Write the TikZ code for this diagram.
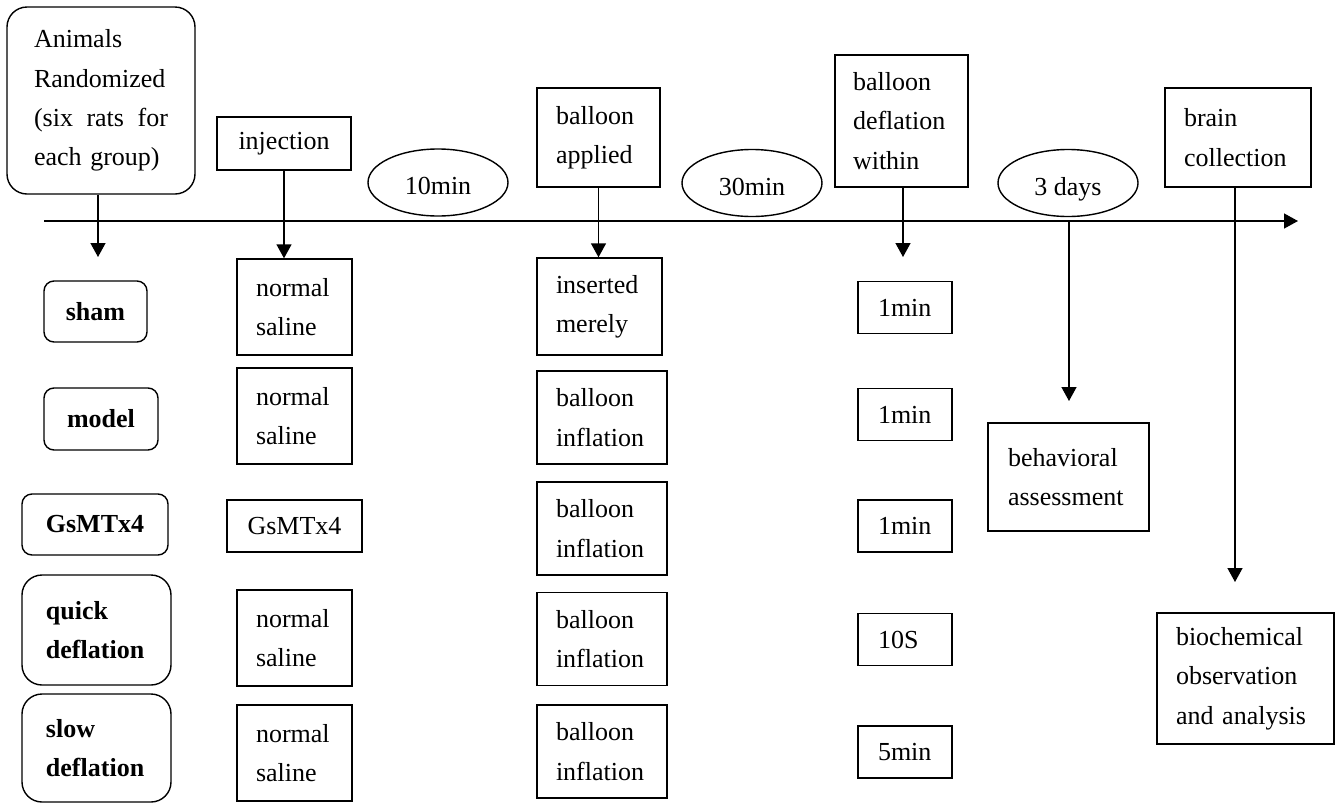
\documentclass[tikz,border=0pt]{standalone}
\usepackage{fontspec}
\setmainfont{Liberation Serif}
\usetikzlibrary{arrows.meta,shapes.geometric}

\tikzset{
	stage/.style={draw, line width=0.7pt, inner xsep=9.5pt, inner ysep=0pt, align=left},
	group/.style={draw, line width=0.7pt, rounded corners=5pt, inner ysep=0pt, align=center, font=\fontsize{13}{19.7}\selectfont\bfseries},
	period/.style={draw, ellipse, line width=0.7pt, minimum width=70pt, minimum height=33.5pt, inner sep=0pt, text height=12pt, text depth=0pt},
	flow/.style={line width=0.7pt, -{Triangle[length=7pt,width=7.5pt]}}
}

\begin{document}
\begin{tikzpicture}[x=0.5pt, y=-0.5pt, font=\fontsize{13}{19.7}\selectfont]
	\useasboundingbox (0,0) rectangle (1335,804);
	% time axis
	\coordinate (t0) at (44,221);
	\coordinate (t1) at (1298,221);
	\draw[flow] (t0) -- (t1);
	% steps above the axis
	\node[stage, rounded corners=10pt, inner xsep=13.5pt, text width=67pt, minimum height=93.5pt] (animals) at (101,100.5)
		{Animals\\Randomized\\\makebox[67pt][l]{(six\hfill rats\hfill for}\\each group)};
	\node[stage, minimum width=67pt, minimum height=26.5pt, align=center] (injection) at (284,143.5) {injection};
	\node[stage, text width=42.5pt, minimum height=49.5pt] (applied) at (598.5,137.5) {balloon\\applied};
	\node[stage, inner xsep=9pt, text width=48.5pt, minimum height=66pt] (within) at (901.5,121) {balloon\\deflation\\within};
	\node[stage, text width=54pt, minimum height=49.5pt] (collection) at (1238,137.5) {brain\\collection};
	% intervals
	\node[period] (p10) at (438,182.5) {10min};
	\node[period] (p30) at (752,183) {30min};
	\node[period] (p3d) at (1068,183) {3 days};
	% groups
	\node[group, minimum width=51.5pt, minimum height=30.5pt] (sham) at (95.5,311.5) {sham};
	\node[group, minimum width=57pt, minimum height=31pt] (model) at (101,419) {model};
	\node[group, minimum width=73pt, minimum height=30.5pt] (gsmtx) at (95,524.5) {GsMTx4};
	\node[group, rounded corners=10pt, align=left, inner xsep=12pt, text width=50.5pt, minimum height=55pt] (quick) at (96.5,630) {quick\\deflation};
	\node[group, rounded corners=10pt, align=left, inner xsep=12pt, text width=50.5pt, minimum height=54pt] (slow) at (96.5,748) {slow\\deflation};
	% what is injected
	\foreach \i/\y in {1/307, 2/416, 3/638, 4/753}
		\node[stage, text width=38.5pt, minimum height=48pt] (saline\i) at (294.5,\y) {normal\\saline};
	\node[stage, minimum width=67.5pt, minimum height=26pt, align=center] (agent) at (294.5,526) {GsMTx4};
	% balloon
	\node[stage, text width=43.5pt, minimum height=48.5pt] (merely) at (599.5,306.5) {inserted\\merely};
	\foreach \i/\y in {1/417.5, 2/528.5, 3/639, 4/751.5}
		\node[stage, text width=46pt, minimum height=46.5pt] (inflate\i) at (602,\y) {balloon\\inflation};
	% deflation times
	\foreach \i/\y/\t in {1/307.5/1min, 2/414.5/1min, 3/526/1min, 4/639.5/10S, 5/752/5min}
		\node[stage, inner xsep=10pt, text width=27pt, minimum height=26pt] (span\i) at (905,\y) {\t};
	% outcomes
	\node[stage, inner xsep=10pt, text width=60.5pt, minimum height=54pt] (behav) at (1068.5,477) {behavioral\\assessment};
	\node[stage, text width=69.5pt, minimum height=65.5pt] (biochem) at (1245.5,678.5) {biochemical\\observation\\and analysis};
	% arrows
	\coordinate (atip) at (98,257);
	\draw[flow] (animals.south -| atip) -- (atip);
	\draw[flow] (injection) -- (injection |- saline1.north);
	\draw[flow] (applied) -- (applied |- merely.north);
	\coordinate (wtip) at (903,257);
	\draw[flow] (within.south -| wtip) -- (wtip);
	\coordinate (btip) at (1069,401);
	\draw[flow] (t0 -| btip) -- (btip);
	\coordinate (ctip) at (1235,582);
	\draw[flow] (collection.south -| ctip) -- (ctip);
\end{tikzpicture}
\end{document}
